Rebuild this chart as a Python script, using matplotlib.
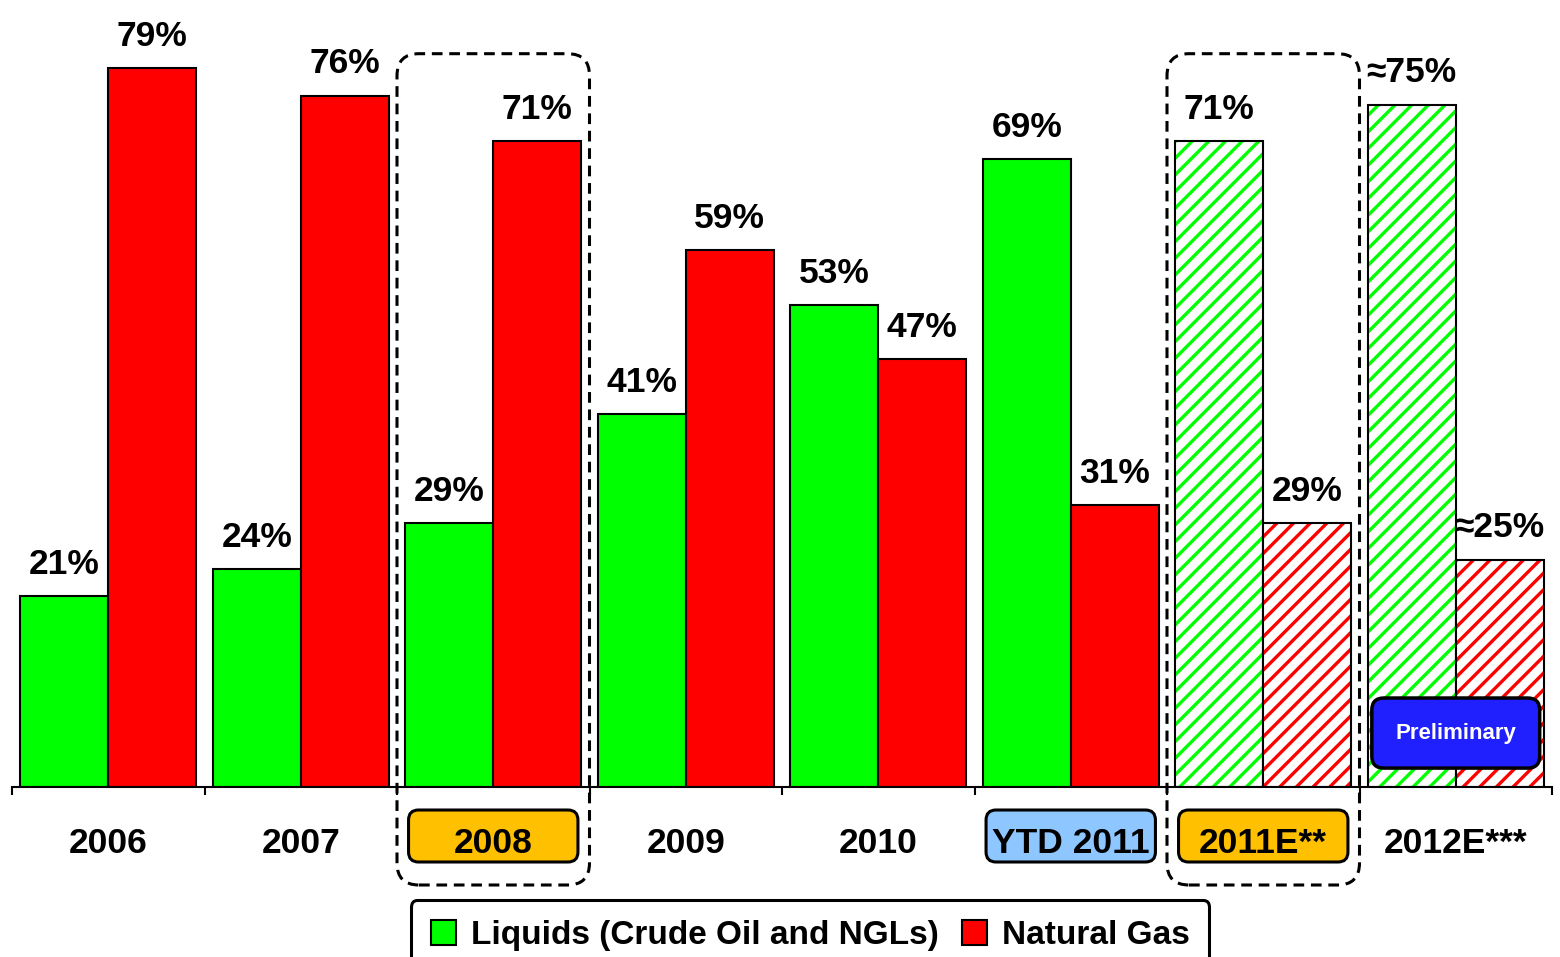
import matplotlib
matplotlib.use("Agg")
import matplotlib.pyplot as plt
from matplotlib.patches import FancyBboxPatch, Patch
from matplotlib.transforms import IdentityTransform

plt.rcParams["font.family"] = ["Liberation Sans", "DejaVu Sans"]
plt.rcParams["font.weight"] = "bold"
plt.rcParams["hatch.linewidth"] = 2.4

# data
years = ["2006", "2007", "2008", "2009", "2010", "YTD 2011", "2011E**", "2012E***"]
liquids = [21, 24, 29, 41, 53, 69, 71, 75]
gas = [79, 76, 71, 59, 47, 31, 29, 25]
approx = [False, False, False, False, False, False, False, True]
estimate = [False, False, False, False, False, False, True, True]
label_box = {2: "#FFC000", 5: "#8EC6FF", 6: "#FFC000"}
dashed_groups = [2, 6]

GREEN = "#00FF00"
RED = "#FF0000"
W, H = 1560, 957
bar_w = 0.457

fig = plt.figure(figsize=(W / 100, H / 100), dpi=100)
ax = fig.add_axes([12 / W, 1 - 787.2 / H, 1540 / W, 787.2 / H])
ax.set_xlim(-0.5, len(years) - 0.5)
ax.set_ylim(0, 86.5)

for i, (liq, ng) in enumerate(zip(liquids, gas)):
    for val, col, off in ((liq, GREEN, -bar_w / 2), (ng, RED, bar_w / 2)):
        if estimate[i]:
            # hatched estimate bars: coloured stripes on white, black outline on top
            ax.bar(i + off, val, bar_w, color="white", edgecolor=col, hatch="//", linewidth=0)
            ax.bar(i + off, val, bar_w, fill=False, edgecolor="black", linewidth=1.5)
        else:
            ax.bar(i + off, val, bar_w, color=col, edgecolor="black", linewidth=1.5)
        pre = "\u2248" if approx[i] else ""
        ax.annotate(f"{pre}{val}%", (i + off, val), xytext=(0, 16), textcoords="offset points",
                    ha="center", va="baseline", fontsize=25.5, fontweight="bold")

for s in ("left", "right", "top"):
    ax.spines[s].set_visible(False)
ax.spines["bottom"].set_linewidth(1.5)
ax.set_yticks([])
ax.set_xticks([i - 0.5 for i in range(len(years) + 1)])
ax.set_xticklabels([])
ax.tick_params(axis="x", length=6, width=1.5, direction="out")


def px_x(x):
    return ax.transData.transform((x, 0))[0]


def px_y(y):
    return ax.transData.transform((0, y))[1]


# category labels below the axis (drawn above the coloured boxes)
for i, yr in enumerate(years):
    fig.text(px_x(i) / W, 1 - 853 / H, yr, ha="center", va="baseline",
             fontsize=25.5, fontweight="bold", zorder=5)

for i, col in label_box.items():
    x0, x1 = px_x(i - 0.44), px_x(i + 0.44)
    box = FancyBboxPatch((x0, H - 862), x1 - x0, 52, boxstyle="round,pad=0,rounding_size=10",
                         transform=IdentityTransform(), facecolor=col, edgecolor="black",
                         linewidth=2.2, zorder=2)
    fig.add_artist(box)

for i in dashed_groups:
    x0, x1 = px_x(i - 0.5), px_x(i + 0.5)
    y1 = px_y(80.6)
    box = FancyBboxPatch((x0, H - 885), x1 - x0, y1 - (H - 885),
                         boxstyle="round,pad=0,rounding_size=22", transform=IdentityTransform(),
                         fill=False, edgecolor="black", linewidth=2.2,
                         linestyle=(0, (3.5, 2.2)), zorder=3)
    fig.add_artist(box)

# "Preliminary" tag on the last group
last = len(years) - 1
x0, x1 = px_x(last - 0.436), px_x(last + 0.436)
y0, y1 = px_y(2.1), px_y(9.8)
fig.add_artist(FancyBboxPatch((x0, y0), x1 - x0, y1 - y0, boxstyle="round,pad=0,rounding_size=12",
                              transform=IdentityTransform(), facecolor="#2020FF",
                              edgecolor="black", linewidth=2.5, zorder=4))
fig.text((x0 + x1) / 2 / W, (y0 + y1) / 2 / H, "Preliminary", ha="center", va="center",
         color="white", fontsize=16, fontweight="bold", zorder=5)

handles = [Patch(facecolor=GREEN, edgecolor="black", linewidth=1.5),
           Patch(facecolor=RED, edgecolor="black", linewidth=1.5)]
leg = fig.legend(handles, ["Liquids (Crude Oil and NGLs)", "Natural Gas"], loc="upper center",
                 bbox_to_anchor=(810 / W, 1 - 900 / H), ncol=2,
                 prop={"weight": "bold", "size": 24}, handlelength=0.75, handleheight=0.75,
                 handletextpad=0.45, columnspacing=0.7, borderpad=0.6, borderaxespad=0,
                 frameon=True, fancybox=True, framealpha=1)
leg.get_frame().set_edgecolor("black")
leg.get_frame().set_linewidth(2.2)

fig.savefig("out.png", dpi=100)
